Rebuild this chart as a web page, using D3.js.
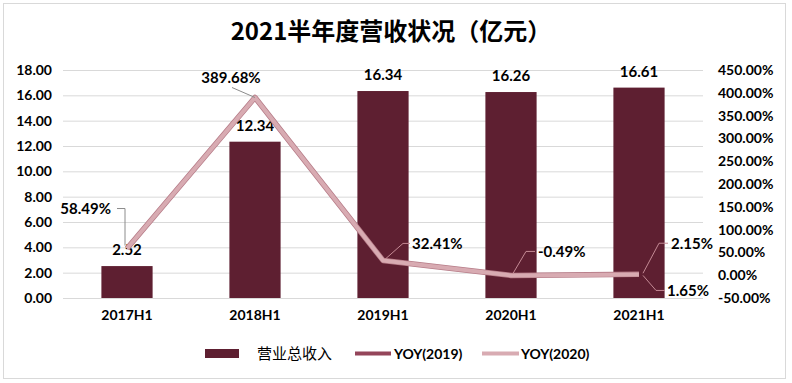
<!DOCTYPE html>
<html><head><meta charset="utf-8">
<script src="https://cdn.jsdelivr.net/npm/d3@7/dist/d3.min.js"></script>
<style>body{margin:0;background:#fff;} svg{display:block;}</style>
</head><body>
<script>
const categories = ["2017H1","2018H1","2019H1","2020H1","2021H1"];
const revenue = [2.52, 12.34, 16.34, 16.26, 16.61];
const yoy2019 = [58.49, 389.68, 32.41, -0.49, 2.15];
const yoy2020 = [58.49, 389.68, 32.41, -0.49, 1.65];
const leftTicks = [0,2,4,6,8,10,12,14,16,18];
const rightTicks = [-50,0,50,100,150,200,250,300,350,400,450];
const title = "2021半年度营收状况（亿元）";
const legendNames = ["营业总收入","YOY(2019)","YOY(2020)"];

const W = 792, H = 383;
const barColor = "#5e1f31", line1Color = "#94455a", line2Color = "#d8abb2";
const font = "Lato, 'Noto Sans', sans-serif";

const svg = d3.select("body").append("svg").attr("width", W).attr("height", H);
svg.append("rect").attr("x",3.5).attr("y",3.5).attr("width",782).attr("height",375)
  .attr("fill","#fff").attr("stroke","#d9d9d9");

svg.append("text").attr("x",391).attr("y",40).attr("text-anchor","middle")
  .attr("font-family","'Noto Sans CJK SC', sans-serif").attr("font-weight","bold")
  .attr("font-size",24).attr("fill","#000").text(title);

const x = d3.scaleBand().domain(categories).range([63,703]).paddingInner(0.6).paddingOuter(0.3);
const yL = d3.scaleLinear().domain([0,18]).range([298,70]);
const yR = d3.scaleLinear().domain([-50,450]).range([298,70]);

// gridlines
svg.append("g").selectAll("line").data(leftTicks).join("line")
  .attr("x1",63).attr("x2",703).attr("y1",d=>yL(d)+0.5).attr("y2",d=>yL(d)+0.5)
  .attr("stroke","#d9d9d9").attr("stroke-width",1);

// left axis
const gl = svg.append("g").attr("transform","translate(52,0)")
  .call(d3.axisLeft(yL).tickValues(leftTicks).tickFormat(d3.format(".2f")).tickSize(0).tickPadding(0));
gl.select(".domain").remove();
gl.selectAll("text").attr("font-family",font).attr("font-weight","bold").attr("font-size",14).attr("fill","#000");

// right axis
const gr = svg.append("g").attr("transform","translate(718,0)")
  .call(d3.axisRight(yR).tickValues(rightTicks).tickFormat(d=>d.toFixed(2)+"%").tickSize(0).tickPadding(0));
gr.select(".domain").remove();
gr.selectAll("text").attr("font-family",font).attr("font-weight","bold").attr("font-size",14).attr("fill","#000");

// x axis
const gx = svg.append("g").attr("transform","translate(0,298)")
  .call(d3.axisBottom(x).tickSize(0).tickPadding(12));
gx.select(".domain").remove();
gx.selectAll("text").attr("font-family",font).attr("font-weight","bold").attr("font-size",14).attr("fill","#000");

// bars
svg.append("g").selectAll("rect").data(revenue).join("rect")
  .attr("x",(d,i)=>x(categories[i])).attr("width",x.bandwidth())
  .attr("y",d=>yL(d)).attr("height",d=>yL(0)-yL(d)).attr("fill",barColor);

svg.append("g").selectAll("text").data(revenue).join("text")
  .attr("x",(d,i)=>x(categories[i])+x.bandwidth()/2).attr("y",d=>yL(d)-11)
  .attr("text-anchor","middle").attr("font-family",font).attr("font-weight","bold")
  .attr("font-size",15).attr("fill","#000").text(d=>d.toFixed(2));

// lines
const cx = i => x(categories[i]) + x.bandwidth()/2;
const line = d3.line().x((d,i)=>cx(i)).y(d=>yR(d));
svg.append("path").datum(yoy2019).attr("d",line).attr("fill","none")
  .attr("stroke","#b67c88").attr("stroke-width",5.5).attr("stroke-linejoin","round");
svg.append("path").datum(yoy2020).attr("d",line).attr("fill","none")
  .attr("stroke",line2Color).attr("stroke-width",4).attr("stroke-linejoin","round");

// line labels with leader lines (offsets relative to the data point)
const lineLabels = [
  {s:yoy2019, i:0, pts:[[-2,-3],[-2,-40],[-10,-40]], tx:-16, ty:-35, anchor:"end", c:"#8c8c8c"},
  {s:yoy2019, i:1, pts:[[0,0],[-23,-10]], tx:-24, ty:-15, anchor:"middle", c:"#8c8c8c"},
  {s:yoy2019, i:2, pts:[[3,-2],[20,-17],[27,-17]], tx:29, ty:-11, anchor:"start", c:"#c48a95"},
  {s:yoy2019, i:3, pts:[[2,-2],[15,-24],[24,-24]], tx:27, ty:-18, anchor:"start", c:"#c48a95"},
  {s:yoy2019, i:4, pts:[[4,-1],[20,-31],[29,-31]], tx:32, ty:-25, anchor:"start", c:"#c48a95"},
  {s:yoy2020, i:4, pts:[[4,1],[17,16],[26,16]], tx:28, ty:22, anchor:"start", c:"#c48a95"}
];
lineLabels.forEach(L=>{
  const px = cx(L.i), py = yR(L.s[L.i]);
  svg.append("polyline").attr("points", L.pts.map(p=>[px+p[0],py+p[1]].join(",")).join(" "))
    .attr("fill","none").attr("stroke",L.c).attr("stroke-width",1);
  svg.append("text").attr("x",px+L.tx).attr("y",py+L.ty).attr("text-anchor",L.anchor)
    .attr("font-family",font).attr("font-weight","bold").attr("font-size",15).attr("fill","#000")
    .text(L.s[L.i].toFixed(2)+"%");
});

// legend
const lg = svg.append("g");
lg.append("rect").attr("x",205).attr("y",349).attr("width",34).attr("height",9).attr("fill",barColor);
lg.append("text").attr("x",257).attr("y",359).attr("font-family","'Noto Sans CJK SC', sans-serif")
  .attr("font-size",15).attr("fill","#000").text(legendNames[0]);
lg.append("line").attr("x1",355).attr("x2",391).attr("y1",353.5).attr("y2",353.5)
  .attr("stroke",line1Color).attr("stroke-width",4);
lg.append("text").attr("x",394).attr("y",359).attr("font-family",font).attr("font-weight","bold")
  .attr("font-size",14).attr("fill","#000").text(legendNames[1]);
lg.append("line").attr("x1",482).attr("x2",519).attr("y1",353.5).attr("y2",353.5)
  .attr("stroke",line2Color).attr("stroke-width",4);
lg.append("text").attr("x",521).attr("y",359).attr("font-family",font).attr("font-weight","bold")
  .attr("font-size",14).attr("fill","#000").text(legendNames[2]);
</script>
</body></html>
